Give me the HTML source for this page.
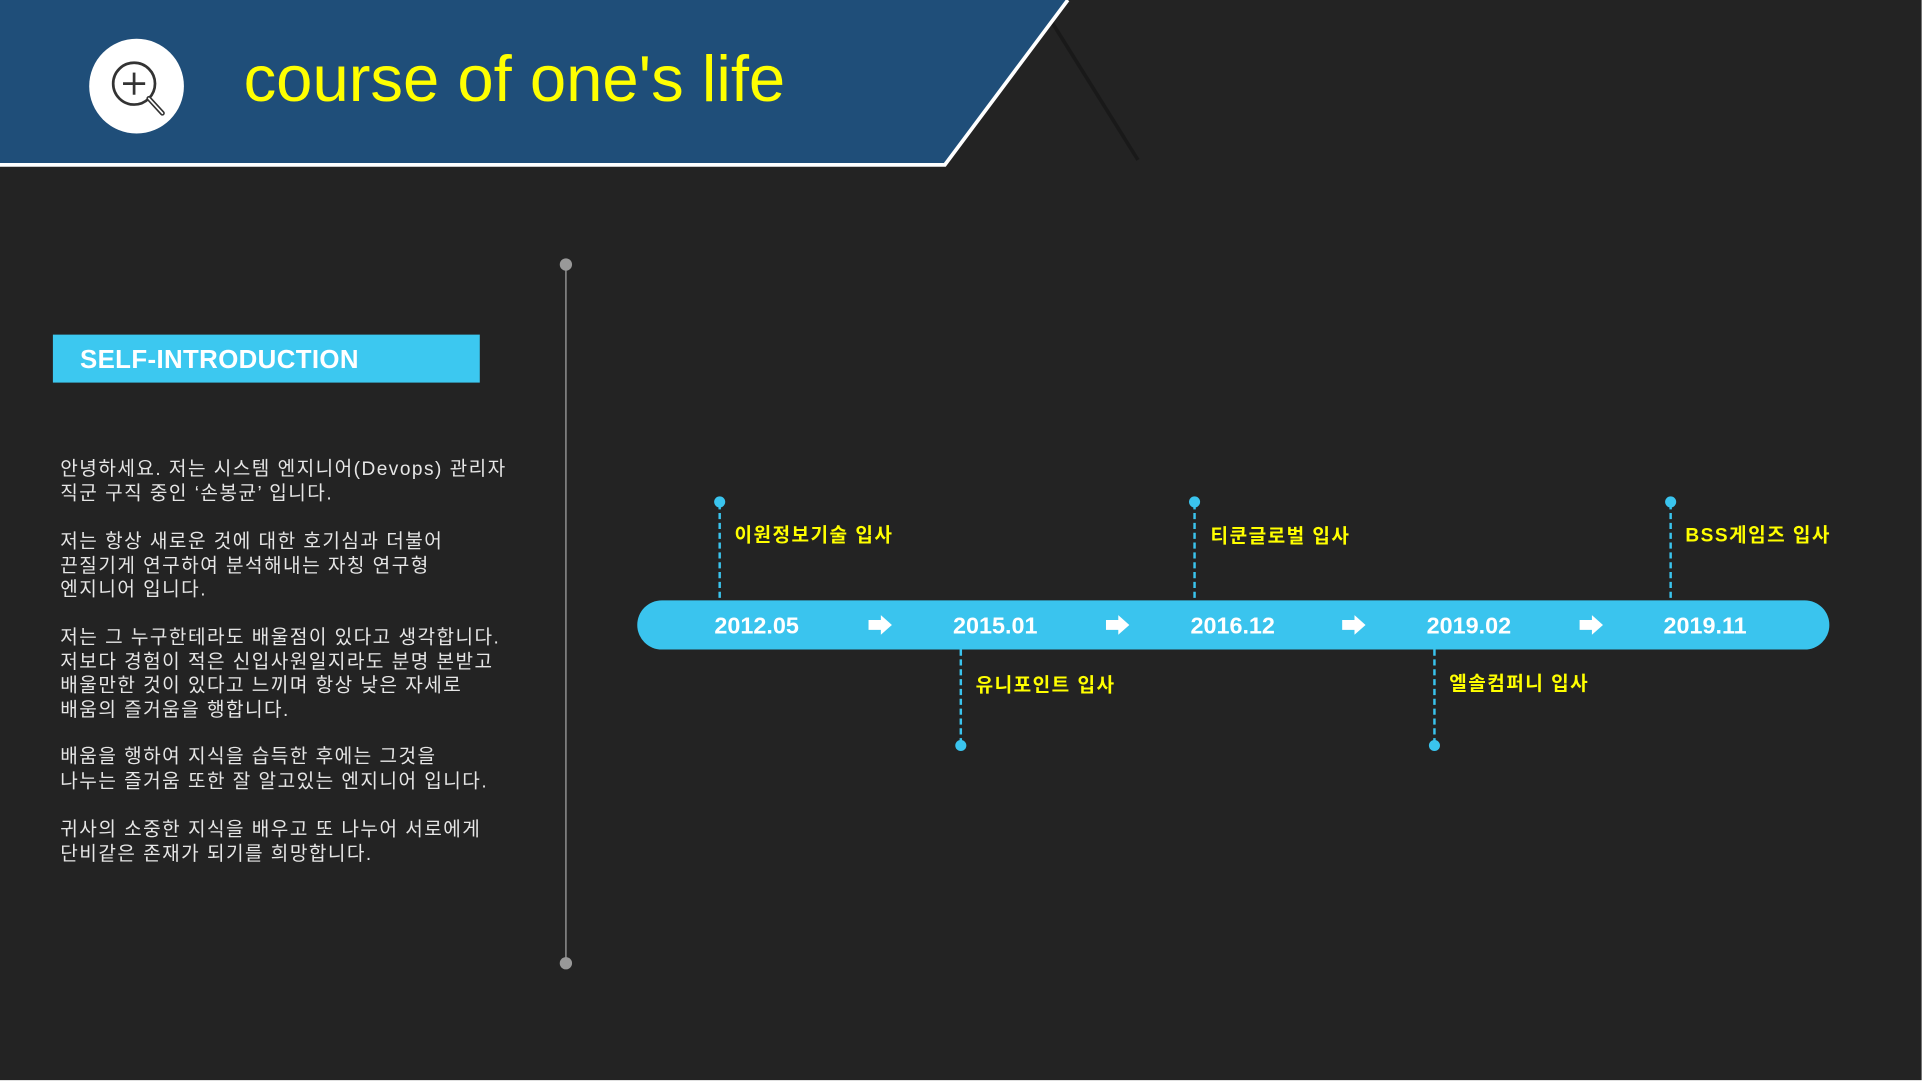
<!DOCTYPE html>
<html><head><meta charset="utf-8"><style>
html,body{margin:0;padding:0;width:1929px;height:1089px;overflow:hidden;background:#fff}
#s{position:absolute;left:0;top:0;width:1568px;height:885px;transform:scale(1.23023);transform-origin:0 0;background:#fff}
#bg{position:absolute;left:0;top:0;width:1562px;height:878px;background:#232323}
.t{position:absolute;white-space:nowrap;font-family:"Liberation Sans","Noto Sans CJK KR",sans-serif}
.p{left:49px;color:#e6e6e6;font-size:15.5px;line-height:19.6px;letter-spacing:1.2px}
.d{color:#fff;font-weight:bold;font-size:19px;top:499px;width:120px;text-align:center}
.l{color:#ffff00;font-weight:bold;font-size:15.5px;letter-spacing:1.2px}
</style></head><body><div id="s"><div id="bg"></div>
<svg width="1568" height="885" style="position:absolute;left:0;top:0">
<line x1="855" y1="18" x2="925" y2="130" stroke="#111" stroke-width="3" opacity="0.5"/>
<polygon points="0,0 868,0 768,134 0,134" fill="#1f4e79"/>
<polyline points="868,0 768,134 0,134" fill="none" stroke="#fff" stroke-width="3"/>
<circle cx="111" cy="70" r="38.5" fill="#fff"/>
<circle cx="109" cy="68" r="17" fill="none" stroke="#333" stroke-width="2.2"/>
<line x1="109" y1="59" x2="109" y2="77" stroke="#333" stroke-width="2.2"/>
<line x1="100" y1="68" x2="118" y2="68" stroke="#333" stroke-width="2.2"/>
<line x1="121" y1="80" x2="132" y2="92" stroke="#333" stroke-width="4" stroke-linecap="round"/>
<line x1="121" y1="80" x2="132" y2="92" stroke="#fff" stroke-width="1.4" stroke-linecap="round"/>
<line x1="460" y1="215" x2="460" y2="783" stroke="#888" stroke-width="1.3"/>
<circle cx="460" cy="215" r="5" fill="#999"/><circle cx="460" cy="783" r="5" fill="#999"/>
<rect x="43" y="272" width="347" height="39" fill="#3cc8f0"/>
<rect x="518" y="488" width="969" height="40" rx="20" fill="#3ac4ee"/>
<g stroke="#3ac4ee" stroke-width="2" stroke-dasharray="5,3">
<line x1="585" y1="409" x2="585" y2="488"/><line x1="971" y1="409" x2="971" y2="488"/><line x1="1358" y1="409" x2="1358" y2="488"/>
<line x1="781" y1="528" x2="781" y2="606"/><line x1="1166" y1="528" x2="1166" y2="606"/></g>
<g fill="#3ac4ee"><circle cx="585" cy="408" r="4.5"/><circle cx="971" cy="408" r="4.5"/><circle cx="1358" cy="408" r="4.5"/><circle cx="781" cy="606" r="4.5"/><circle cx="1166" cy="606" r="4.5"/></g>
<g fill="#fff">
<polygon points="706,504 716,504 716,500 725,508 716,516 716,512 706,512"/>
<polygon points="899,504 909,504 909,500 918,508 909,516 909,512 899,512"/>
<polygon points="1091,504 1101,504 1101,500 1110,508 1101,516 1101,512 1091,512"/>
<polygon points="1284,504 1294,504 1294,500 1303,508 1294,516 1294,512 1284,512"/>
</g></svg>
<div class="t" style="left:198px;top:34px;font-size:53px;color:#ffff00">course of one's life</div>
<div class="t" style="left:65px;top:281px;font-size:21px;font-weight:bold;color:#fff;letter-spacing:0.3px">SELF-INTRODUCTION</div>
<div class="t p" style="top:372px">안녕하세요. 저는 시스템 엔지니어(Devops) 관리자<br>직군 구직 중인 ‘손봉균’ 입니다.</div>
<div class="t p" style="top:431px">저는 항상 새로운 것에 대한 호기심과 더불어<br>끈질기게 연구하여 분석해내는 자칭 연구형<br>엔지니어 입니다.</div>
<div class="t p" style="top:509px">저는 그 누구한테라도 배울점이 있다고 생각합니다.<br>저보다 경험이 적은 신입사원일지라도 분명 본받고<br>배울만한 것이 있다고 느끼며 항상 낮은 자세로<br>배움의 즐거움을 행합니다.</div>
<div class="t p" style="top:606px">배움을 행하여 지식을 습득한 후에는 그것을<br>나누는 즐거움 또한 잘 알고있는 엔지니어 입니다.</div>
<div class="t p" style="top:665px">귀사의 소중한 지식을 배우고 또 나누어 서로에게<br>단비같은 존재가 되기를 희망합니다.</div>
<div class="t d" style="left:555px">2012.05</div>
<div class="t d" style="left:749px">2015.01</div>
<div class="t d" style="left:942px">2016.12</div>
<div class="t d" style="left:1134px">2019.02</div>
<div class="t d" style="left:1326px">2019.11</div>
<div class="t l" style="left:597px;top:423px">이원정보기술 입사</div>
<div class="t l" style="left:984px;top:424px">티쿤글로벌 입사</div>
<div class="t l" style="left:1370px;top:423px">BSS게임즈 입사</div>
<div class="t l" style="left:793px;top:545px">유니포인트 입사</div>
<div class="t l" style="left:1178px;top:544px">엘솔컴퍼니 입사</div>
</div></body></html>
